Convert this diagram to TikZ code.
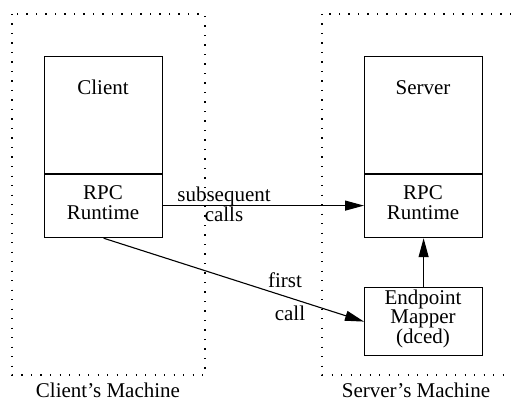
\documentclass[tikz,border=0pt]{standalone}
\usepackage{fontspec}
\setmainfont{Liberation Serif}
\usetikzlibrary{arrows.meta}
\begin{document}
\begin{tikzpicture}[x=1pt,y=-1pt,
  every node/.style={font=\rmfamily\fontsize{21}{20}\selectfont, inner sep=0pt},
  machine/.style={draw, line width=1.3pt, dash pattern=on 1.3pt off 8.2pt},
  box/.style={draw, line width=1.2pt, minimum width=118pt, anchor=north west},
  conn/.style={line width=1.1pt, -{Triangle[length=19pt,width=10pt]}},
  lbl/.style={align=center, font=\rmfamily\fontsize{21}{17}\selectfont}]
  \useasboundingbox (0,0) rectangle (511,401);
  \begin{scope}
    \clip (0,0) rectangle (511,401);
    % machine boundaries
    \draw[machine] (12,14) rectangle (205,375);
    \draw[machine] (322,14) rectangle (540,375);
  \end{scope}
  % client side
  \node[box, minimum height=117pt] (client) at (44,56) {};
  \node[anchor=base] (clienttxt) at (103,95) {Client};
  \node[box, minimum height=64pt] (clientrt) at (44,173) {};
  \node[align=center] (clientrttxt) at (103,203) {RPC\\Runtime};
  \draw[line width=2pt] (client.south west) -- (client.south east);
  % server side
  \node[box, minimum height=117pt] (server) at (364,56) {};
  \node[anchor=base] (servertxt) at (423,95) {Server};
  \node[box, minimum height=64pt] (serverrt) at (364,173) {};
  \node[align=center] (serverrttxt) at (423,203) {RPC\\Runtime};
  \draw[line width=2pt] (server.south west) -- (server.south east);
  \node[box, minimum height=68pt] (mapper) at (364,287) {};
  \node[lbl] (mappertxt) at (423,319) {Endpoint\\Mapper\\(dced)};
  % connectors
  \draw[conn] (clientrt.east) -- (serverrt.west);
  \draw[conn] (clientrt.south) -- (mapper.west);
  \draw[conn] (mapper.north) -- (serverrt.south);
  % connector labels
  \node[lbl] (sublbl) at (224,204) {subsequent\\calls};
  \node[anchor=base] (firstlbl) at (285,287) {first};
  \node[anchor=base] (calllbl) at (290,320) {call};
  % machine captions
  \node[anchor=base] (clientm) at (108,397) {Client’s Machine};
  \node[anchor=base] (serverm) at (416,397) {Server’s Machine};
\end{tikzpicture}
\end{document}
